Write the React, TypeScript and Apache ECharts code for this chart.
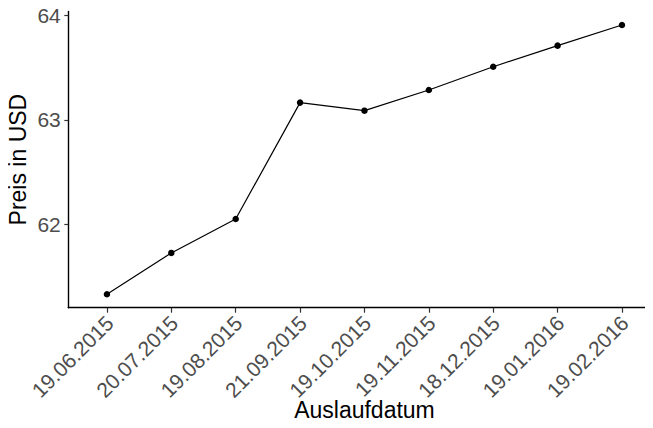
import React, { useEffect, useRef } from "react";
import * as echarts from "echarts";

const dates = [
  "19.06.2015",
  "20.07.2015",
  "19.08.2015",
  "21.09.2015",
  "19.10.2015",
  "19.11.2015",
  "18.12.2015",
  "19.01.2016",
  "19.02.2016",
];
const prices = [61.335, 61.73, 62.054, 63.165, 63.088, 63.286, 63.508, 63.709, 63.906];
const yTicks = [62, 63, 64];
const xTitle = "Auslaufdatum";
const yTitle = "Preis in USD";

const FONT = "'Liberation Sans', Arial, Helvetica, sans-serif";

export default function App() {
  const ref = useRef<HTMLDivElement>(null);
  useEffect(() => {
    if (!ref.current) return;
    const chart = echarts.init(ref.current, null, { renderer: "svg" });
    const idx = dates.map((_, i) => i);
    chart.setOption({
      animation: false,
      backgroundColor: "#ffffff",
      grid: {
        left: 68.3,
        top: 11.5,
        width: 592.3,
        height: 296.2,
        containLabel: false,
        outerBoundsMode: "none",
      },
      xAxis: {
        type: "value",
        min: -0.6,
        max: dates.length - 1 + 0.6,
        name: xTitle,
        nameLocation: "middle",
        nameGap: 91,
        nameMoveOverlap: false,
        nameTextStyle: { color: "#000000", fontSize: 23, fontFamily: FONT },
        axisLine: { show: true, onZero: false, lineStyle: { color: "#000000", width: 1.4 } },
        axisTick: {
          show: true,
          length: 5,
          customValues: idx,
          lineStyle: { color: "#333333", width: 1.2 },
        },
        axisLabel: {
          customValues: idx,
          rotate: 45,
          margin: 9,
          verticalAlign: "top",
          lineHeight: 8,
          color: "#4D4D4D",
          fontSize: 21,
          fontFamily: FONT,
          formatter: (v: number) => dates[Math.round(v)] ?? "",
        },
        splitLine: { show: false },
      },
      yAxis: {
        type: "value",
        min: 61.207,
        max: 64.035,
        name: yTitle,
        nameLocation: "middle",
        nameRotate: 90,
        nameGap: 39,
        nameMoveOverlap: false,
        nameTextStyle: { color: "#000000", fontSize: 23, fontFamily: FONT },
        axisLine: { show: true, onZero: false, lineStyle: { color: "#000000", width: 1.4 } },
        axisTick: {
          show: true,
          length: 4,
          customValues: yTicks,
          lineStyle: { color: "#333333", width: 1.2 },
        },
        axisLabel: {
          customValues: yTicks,
          margin: 7.5,
          color: "#4D4D4D",
          fontSize: 21,
          fontFamily: FONT,
        },
        splitLine: { show: false },
      },
      series: [
        {
          type: "line",
          data: prices.map((p, i) => [i, p]),
          symbol: "circle",
          symbolSize: 6.5,
          showSymbol: true,
          lineStyle: { color: "#000000", width: 1.2 },
          itemStyle: { color: "#000000" },
        },
      ],
    });
    return () => chart.dispose();
  }, []);
  return <div ref={ref} style={{ width: 653, height: 428, margin: -8 }} />;
}
